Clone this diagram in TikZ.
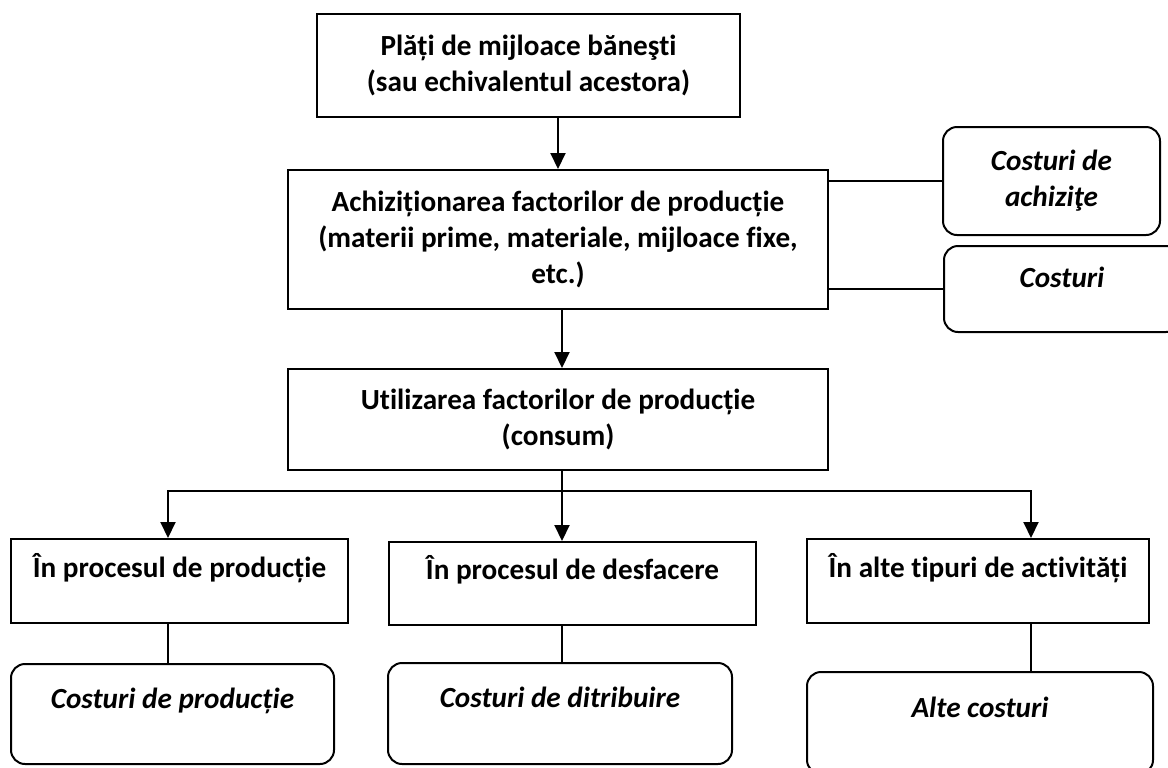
\documentclass[tikz,border=0pt]{standalone}
\usepackage{fontspec}
\setmainfont{Carlito}[Ligatures=NoCommon]
\usetikzlibrary{arrows.meta}

\begin{document}
\begin{tikzpicture}[
    x=0.5pt, y=-0.5pt,
    line width=1pt,
    >={Triangle[width=7.5pt,length=8pt]},
    stage/.style={rectangle,draw,align=center,inner sep=2pt,
      font=\bfseries\fontsize{14.6}{18}\selectfont},
    cost/.style={stage,rounded corners=7pt,
      font=\bfseries\itshape\fontsize{14.6}{18}\selectfont},
    lifted/.style={text depth=16pt}
  ]
  \useasboundingbox (0,0) rectangle (1168,767);
  \clip (0,0) rectangle (1168,767);

  % main chain
  \node[stage,minimum width=211.5pt,minimum height=51.5pt] (pay) at (528.5,65.5)
    {Plăți de mijloace băneşti\\(sau echivalentul acestora)};
  \node[stage,minimum width=270pt,minimum height=69.5pt] (buy) at (558,239.5)
    {Achiziționarea factorilor de producție\\(materii prime, materiale, mijloace fixe,\\etc.)};
  \node[stage,minimum width=270pt,minimum height=50.5pt] (use) at (558,419.5)
    {Utilizarea factorilor de producție\\(consum)};

  % costs on the right
  \node[cost,minimum width=108.5pt,minimum height=54pt] (acq) at (1051.5,181) {Costuri de\\achiziţe};
  \node[cost,text depth=12pt,minimum width=118pt,minimum height=43pt] (acqb) at (1062,289) {Costuri};

  % where the factors are used
  \node[stage,lifted,minimum width=168.5pt,minimum height=42pt] (prod) at (179.5,581) {În procesul de producție};
  \node[stage,lifted,minimum width=183.5pt,minimum height=41.5pt] (sale) at (572.5,583.5) {În procesul de desfacere};
  \node[stage,lifted,minimum width=171pt,minimum height=42pt] (other) at (978,581) {În alte tipuri de activități};

  \node[cost,lifted,minimum width=161.5pt,minimum height=50pt] (cprod) at (172.5,714) {Costuri de producție};
  \node[cost,lifted,minimum width=172pt,minimum height=50.5pt] (csale) at (560,713.5) {Costuri de ditribuire};
  \node[cost,lifted,minimum width=173pt,minimum height=51pt] (cother) at (980,723) {Alte costuri};

  \coordinate (drop1) at (168,491);
  \coordinate (drop2) at (562,491);
  \coordinate (drop3) at (1031,491);

  \draw[->] (pay.south -| buy.north) -- (buy.north);
  \draw[->] (drop2 |- buy.south) -- (drop2 |- use.north);
  \draw (buy.east |- acq.west) -- (acq.west);
  \draw (buy.east |- acqb.west) -- (acqb.west);

  % split below the use box
  \draw[->] (drop2) -- (drop1) -- (drop1 |- prod.north);
  \draw[->] (drop2) -- (drop3) -- (drop3 |- other.north);
  \draw[->] (drop2 |- use.south) -- (drop2 |- sale.north);
  \foreach \d/\s/\c in {drop1/prod/cprod, drop2/sale/csale, drop3/other/cother}
    \draw (\d |- \s.south) -- (\d |- \c.north);
\end{tikzpicture}
\end{document}
